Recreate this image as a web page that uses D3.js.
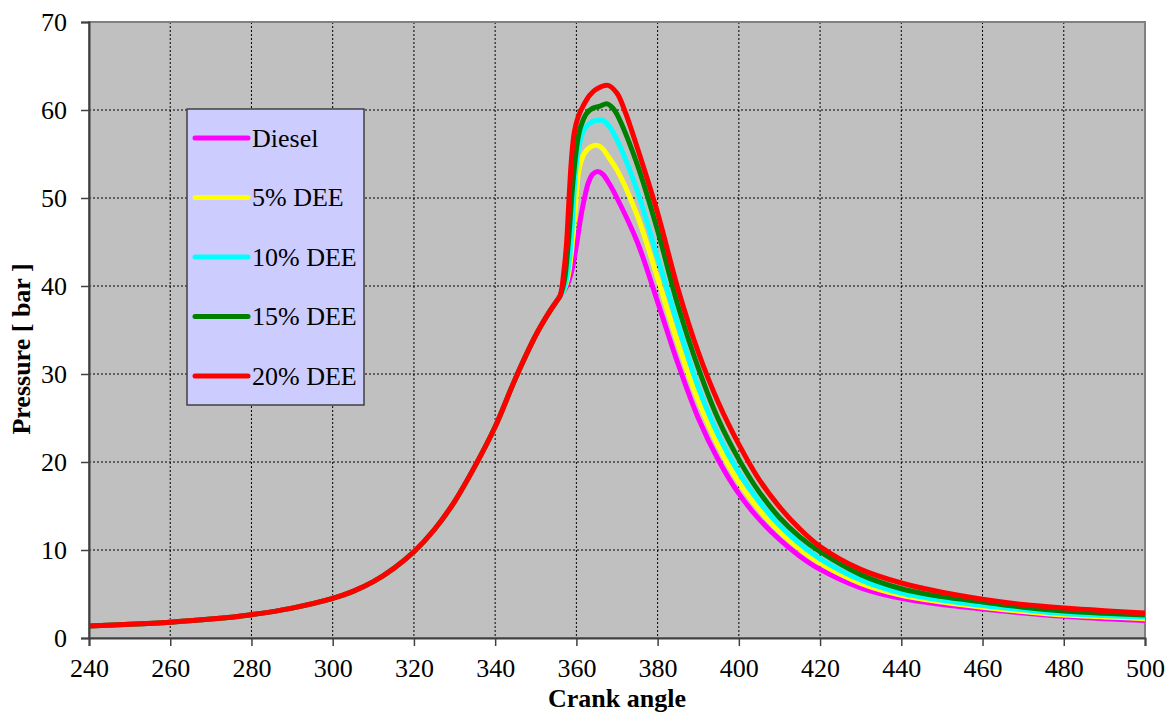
<!DOCTYPE html>
<html>
<head>
<meta charset="utf-8">
<script src="https://cdn.jsdelivr.net/npm/d3@7"></script>
<style>
  body { margin: 0; background: #fff; }
  text { font-family: "Liberation Serif", "Times New Roman", serif; }
</style>
</head>
<body>
<div id="chart"></div>
<script>
// shared compression stroke (all fuels overlap here)
const compression = [[240,1.35],[250,1.55],[260,1.8],[270,2.15],[280,2.65],[290,3.4],[300,4.5],[305,5.3],[310,6.4],
  [315,7.9],[320,9.8],[325,12.3],[330,15.5],[335,19.5],[340,24],[345,29.5],[350,34.4],[353,36.8],[355,38.2],[356,38.9]];

const diesel = [[357,39.5],[358,40.4],[359,42],[360,44.6],[361,47.6],[362,50],[363,51.8],[364,52.7],[365.2,53],[366.5,52.7],
  [368,51.7],[370,50],[375,45],[380,38.2],[385,31.2],[390,25],[395,20.2],[400,16.4],[405,13.5],[410,11.2],[415,9.3],
  [420,7.8],[430,5.7],[440,4.5],[450,3.8],[460,3.3],[470,2.85],[480,2.47],[490,2.2],[500,2.0]];

const dee5 = [[357,39.6],[358,41.2],[358.7,43.5],[359.4,46.8],[360,50.3],[360.7,53.4],[362,55.1],[363.5,55.8],[365,56],
  [366.5,55.6],[368,54.6],[370,53.2],[375,48],[380,40.9],[385,33.5],[390,27],[395,21.8],[400,17.7],[405,14.6],[410,12.1],
  [415,10.1],[420,8.5],[430,6.2],[440,4.85],[450,4.1],[460,3.5],[470,3.0],[480,2.6],[490,2.4],[500,2.2]];

const dee10 = [[357,39.7],[358,42],[358.7,45],[359.7,52.4],[360.5,55.5],[361.7,57.6],[363,58.4],[364.8,58.8],[366.6,58.8],
  [368,58.2],[370,56.6],[375,50.8],[380,43.2],[385,35.6],[390,28.5],[395,23],[400,18.8],[405,15.5],[410,12.8],[415,10.7],
  [420,9.0],[430,6.6],[440,5.1],[450,4.3],[460,3.7],[470,3.2],[480,2.77],[490,2.55],[500,2.4]];

const dee15 = [[357,40.5],[358,44.8],[359,51],[360.2,56.2],[361,58],[362.5,59.6],[364,60.2],[365.6,60.4],[367.6,60.7],
  [369,60.2],[370,59.5],[375,53.8],[380,46.3],[385,37.8],[390,30.7],[395,24.8],[400,20.3],[405,16.6],[410,13.7],
  [415,11.5],[420,9.8],[430,7.2],[440,5.6],[450,4.7],[460,4.1],[470,3.5],[480,3.07],[490,2.8],[500,2.6]];

const dee20 = [[357,42],[357.6,45],[358.2,50],[358.8,54.5],[359.5,57.5],[360.5,59.3],[361.7,60.5],[363.3,61.7],[365,62.4],
  [367.8,62.8],[370,61.9],[372,59.8],[375,55.7],[380,48.3],[385,39.7],[390,32.5],[395,26.7],[400,22],[405,18],[410,14.9],
  [415,12.4],[420,10.4],[430,7.8],[440,6.25],[450,5.2],[460,4.4],[470,3.8],[480,3.4],[490,3.1],[500,2.85]];

const seriesNames = ["Diesel", "5% DEE", "10% DEE", "15% DEE", "20% DEE"];
const seriesColors = ["#ff00ff", "#ffff00", "#00ffff", "#008000", "#ff0000"];
const xTicks = d3.range(240, 501, 20);
const yTicks = d3.range(0, 71, 10);

const series = [diesel, dee5, dee10, dee15, dee20].map((s, i) => ({
  name: seriesNames[i], color: seriesColors[i], values: compression.concat(s)
}));

const margin = ({top: 22, right: 23, bottom: 79, left: 89});
const W = 1168, H = 717;
const width = W - margin.left - margin.right, height = H - margin.top - margin.bottom;

const svg = d3.select("#chart")
  .append("svg")
  .attr("width", W)
  .attr("height", H)
  .append("g")
  .attr("transform", `translate(${margin.left}, ${margin.top})`);

const xScale = d3.scaleLinear().domain([240, 500]).range([0, width]);
const yScale = d3.scaleLinear().domain([0, 70]).range([height, 0]);

svg.append("rect")
  .attr("width", width)
  .attr("height", height)
  .attr("fill", "#c0c0c0");

// grid
svg.append("g").selectAll("line")
  .data(xTicks.slice(1, -1))
  .join("line")
  .attr("x1", d => xScale(d)).attr("x2", d => xScale(d))
  .attr("y1", 0).attr("y2", height)
  .attr("stroke", "#000").attr("stroke-width", 1).attr("stroke-dasharray", "2,2");
svg.append("g").selectAll("line")
  .data(yTicks.slice(1, -1))
  .join("line")
  .attr("x1", 0).attr("x2", width)
  .attr("y1", d => yScale(d)).attr("y2", d => yScale(d))
  .attr("stroke", "#000").attr("stroke-width", 1).attr("stroke-dasharray", "2,2");

// plot border
svg.append("rect")
  .attr("width", width)
  .attr("height", height)
  .attr("fill", "none")
  .attr("stroke", "#808080")
  .attr("stroke-width", 2);

const line = d3.line()
  .x(d => xScale(d[0]))
  .y(d => yScale(d[1]))
  .curve(d3.curveCatmullRom.alpha(0.5));

svg.selectAll(".series")
  .data(series)
  .join("path")
  .attr("class", "series")
  .attr("d", d => line(d.values))
  .attr("fill", "none")
  .attr("stroke", d => d.color)
  .attr("stroke-width", 5)
  .attr("stroke-linejoin", "round");

// axes
const xAxis = d3.axisBottom(xScale).tickValues(xTicks).tickSize(8).tickPadding(6);
const yAxis = d3.axisLeft(yScale).tickValues(yTicks).tickSize(8).tickPadding(14);

const gx = svg.append("g").attr("transform", `translate(0, ${height})`).call(xAxis);
const gy = svg.append("g").call(yAxis);
[gx, gy].forEach(g => {
  g.select(".domain").attr("stroke", "#404040").attr("stroke-width", 2);
  g.selectAll(".tick line").attr("stroke", "#404040").attr("stroke-width", 1.5);
  g.selectAll(".tick text")
    .attr("font-family", "'Liberation Serif', 'Times New Roman', serif")
    .attr("font-size", 26)
    .attr("fill", "#000");
});
gx.selectAll(".tick text").attr("dy", "0.95em");

svg.append("text")
  .attr("x", width / 2)
  .attr("y", height + 69)
  .attr("text-anchor", "middle")
  .attr("font-size", 26)
  .attr("font-weight", "bold")
  .text("Crank angle");

svg.append("text")
  .attr("transform", `translate(${30 - margin.left}, ${349 - margin.top}) rotate(-90)`)
  .attr("text-anchor", "middle")
  .attr("font-size", 26)
  .attr("font-weight", "bold")
  .text("Pressure [ bar ]");

// legend
const legend = svg.append("g")
  .attr("transform", `translate(${187 - margin.left}, ${109 - margin.top})`);
legend.append("rect")
  .attr("width", 177)
  .attr("height", 296)
  .attr("fill", "#ccccff")
  .attr("stroke", "#404040")
  .attr("stroke-width", 1.5);
const items = legend.selectAll(".item")
  .data(series)
  .join("g")
  .attr("class", "item")
  .attr("transform", (d, i) => `translate(0, ${29 + i * 59.5})`);
items.append("line")
  .attr("x1", 8).attr("x2", 61)
  .attr("stroke", d => d.color)
  .attr("stroke-width", 5)
  .attr("stroke-linecap", "round");
items.append("text")
  .attr("x", 65)
  .attr("dy", "0.33em")
  .attr("font-size", 26)
  .text(d => d.name);
</script>
</body>
</html>
